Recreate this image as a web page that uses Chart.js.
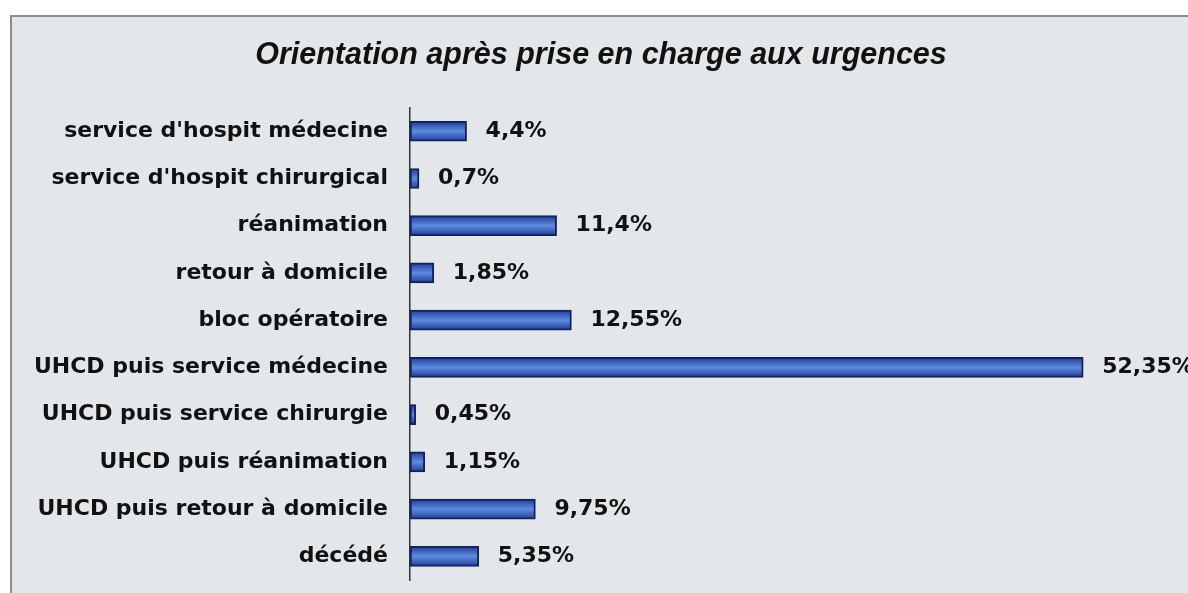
<!DOCTYPE html>
<html>
<head>
<meta charset="utf-8">
<title>Orientation après prise en charge aux urgences</title>
<script src="https://cdn.jsdelivr.net/npm/chart.js@4.4.1/dist/chart.umd.min.js"></script>
<style>
	html, body { margin: 0; padding: 0; background: #fff; }
	#wrap { position: relative; width: 1188px; height: 593px; }
</style>
</head>
<body>
<div id="wrap"><canvas id="myChart" width="1188" height="593"></canvas></div>
<script>
var chartTitle = 'Orientation après prise en charge aux urgences';
var categories = [
	"service d'hospit médecine",
	"service d'hospit chirurgical",
	'réanimation',
	'retour à domicile',
	'bloc opératoire',
	'UHCD puis service médecine',
	'UHCD puis service chirurgie',
	'UHCD puis réanimation',
	'UHCD puis retour à domicile',
	'décédé'
];
var percents = [4.4, 0.7, 11.4, 1.85, 12.55, 52.35, 0.45, 1.15, 9.75, 5.35];

(function() {
	'use strict';

	// grey framed panel behind the chart
	var panel = {
		id: 'panel',
		beforeDraw: function(chart) {
			var c = chart.ctx;
			c.save();
			c.fillStyle = '#e3e7e9';
			c.fillRect(10, 15, 1190, 590);
			c.strokeStyle = '#8c8c8c';
			c.lineWidth = 2;
			c.beginPath();
			c.moveTo(11, 600);
			c.lineTo(11, 16);
			c.lineTo(1190, 16);
			c.stroke();
			c.restore();
		}
	};

	// value labels next to each bar
	var valueLabels = {
		id: 'valueLabels',
		afterDatasetsDraw: function(chart) {
			var c = chart.ctx;
			var meta = chart.getDatasetMeta(0);
			c.save();
			c.font = 'bold 22px "DejaVu Sans"';
			c.fillStyle = '#111';
			c.textAlign = 'left';
			c.textBaseline = 'middle';
			meta.data.forEach(function(bar, i) {
				var txt = String(percents[i]).replace('.', ',') + '%';
				c.fillText(txt, bar.x + 19, bar.y);
			});
			c.restore();
		}
	};

	function barFill(context) {
		var chart = context.chart;
		if (!chart.chartArea || context.dataIndex === undefined) {
			return '#3d64c9';
		}
		var y = chart.scales.y.getPixelForValue(context.dataIndex);
		var g = chart.ctx.createLinearGradient(0, y - 10, 0, y + 10);
		g.addColorStop(0, '#1f3c96');
		g.addColorStop(0.5, '#5e8ae2');
		g.addColorStop(1, '#1f3c96');
		return g;
	}

	var ctx = document.getElementById('myChart').getContext('2d');
	var myChart = new Chart(ctx, {
		type: 'bar',
		data: {
			labels: categories,
			datasets: [{
				data: percents,
				backgroundColor: barFill,
				borderColor: '#12235c',
				borderWidth: 2,
				borderSkipped: false,
				barThickness: 20
			}]
		},
		options: {
			indexAxis: 'y',
			responsive: false,
			animation: false,
			layout: {
				padding: { top: 0, right: 0, bottom: 13, left: 14 }
			},
			plugins: {
				legend: { display: false },
				tooltip: { enabled: false },
				title: {
					display: true,
					text: chartTitle,
					color: '#111',
					font: { family: '"Liberation Sans", Arial', size: 30.5, style: 'italic', weight: 'bold', lineHeight: 1.2 },
					padding: { top: 37, bottom: 34 }
				}
			},
			scales: {
				x: {
					display: false,
					min: 0,
					max: 60.5
				},
				y: {
					afterFit: function(scale) {
						// fixed axis position, no extra label padding at the ends
						scale.width = 396;
						scale.paddingTop = 0;
						scale.paddingBottom = 0;
					},
					grid: { display: false, drawTicks: false },
					border: { display: true, color: '#333', width: 1.5 },
					ticks: {
						padding: 22,
						color: '#111',
						font: { family: '"DejaVu Sans"', size: 22, weight: 'bold' }
					}
				}
			}
		},
		plugins: [panel, valueLabels]
	});
})();
</script>
</body>
</html>
